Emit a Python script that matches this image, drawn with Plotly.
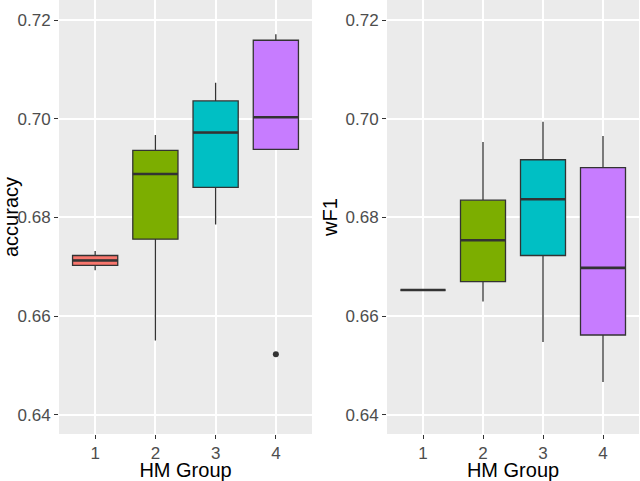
import plotly.graph_objects as go
from plotly.subplots import make_subplots

# --- data ---
groups = [1, 2, 3, 4]
group_colors = ["#F8766D", "#7CAE00", "#00BFC4", "#C77CFF"]

acc_low = [0.6693, 0.6551, 0.6786, 0.6938]
acc_q1 = [0.6703, 0.6756, 0.6861, 0.6938]
acc_med = [0.6713, 0.6888, 0.6972, 0.7003]
acc_q3 = [0.6723, 0.6936, 0.7036, 0.7159]
acc_high = [0.6732, 0.6967, 0.7073, 0.7171]
acc_outlier_group = [4]
acc_outlier_value = [0.6523]

wf1_low = [0.6653, 0.6630, 0.6548, 0.6467]
wf1_q1 = [0.6653, 0.6670, 0.6723, 0.6562]
wf1_med = [0.6653, 0.6754, 0.6837, 0.6698]
wf1_q3 = [0.6653, 0.6835, 0.6917, 0.6901]
wf1_high = [0.6653, 0.6953, 0.6994, 0.6965]

y_range = [0.63615, 0.72405]
y_ticks = [0.64, 0.66, 0.68, 0.70, 0.72]
y_ticktext = ["0.64", "0.66", "0.68", "0.70", "0.72"]
y_minor = [0.65, 0.67, 0.69, 0.71]

BOX_W = 0.75
LINE = "#333333"

fig = make_subplots(rows=1, cols=2, horizontal_spacing=0.1)

# ggplot-style minor grid lines, drawn under the data
for col in (1, 2):
    for v in y_minor:
        fig.add_hline(y=v, line=dict(color="white", width=1), layer="between", row=1, col=col)


def add_panel(col, low, q1, med, q3, high):
    for g, c, lo, a, m, b, hi in zip(groups, group_colors, low, q1, med, q3, high):
        fig.add_trace(
            go.Box(
                x=[g], lowerfence=[lo], q1=[a], median=[m], q3=[b], upperfence=[hi],
                width=BOX_W, whiskerwidth=0, fillcolor=c,
                line=dict(color=LINE, width=1.3), boxpoints=False,
                hoverinfo="skip", showlegend=False,
            ),
            row=1, col=col,
        )
        # thicker median like ggplot's fatten
        fig.add_trace(
            go.Scatter(
                x=[g - BOX_W / 2, g + BOX_W / 2], y=[m, m], mode="lines",
                line=dict(color=LINE, width=2.6), hoverinfo="skip", showlegend=False,
            ),
            row=1, col=col,
        )


add_panel(1, acc_low, acc_q1, acc_med, acc_q3, acc_high)
add_panel(2, wf1_low, wf1_q1, wf1_med, wf1_q3, wf1_high)

fig.add_trace(
    go.Scatter(
        x=acc_outlier_group, y=acc_outlier_value, mode="markers",
        marker=dict(color=LINE, size=6), hoverinfo="skip", showlegend=False,
    ),
    row=1, col=1,
)

fig.update_layout(
    width=640, height=481,
    margin=dict(l=0, r=0, t=0, b=0, autoexpand=False),
    paper_bgcolor="white",
    plot_bgcolor="#EBEBEB",
    font=dict(family="Liberation Sans, Arial, sans-serif", color="#000000"),
    xaxis=dict(domain=[59 / 640, 312 / 640]),
    xaxis2=dict(domain=[387 / 640, 639 / 640]),
    yaxis=dict(domain=[1 - 434 / 481, 1]),
    yaxis2=dict(domain=[1 - 434 / 481, 1]),
)

fig.update_xaxes(
    range=[0.4, 4.6], tickvals=groups, ticktext=[str(g) for g in groups],
    automargin=False,
    showgrid=True, gridcolor="white", gridwidth=1.6, zeroline=False,
    ticks="outside", ticklen=4, tickcolor=LINE, tickwidth=1.2,
    tickfont=dict(size=17, color="#4D4D4D"),
    title=dict(text="HM Group", font=dict(size=20, color="#000000"), standoff=4),
)
fig.update_yaxes(
    range=y_range, tickvals=y_ticks, ticktext=y_ticktext,
    automargin=False,
    showgrid=True, gridcolor="white", gridwidth=1.6, zeroline=False,
    ticks="outside", ticklen=4, tickcolor=LINE, tickwidth=1.2,
    tickfont=dict(size=17, color="#4D4D4D"),
)
fig.update_yaxes(title=dict(text="accuracy", font=dict(size=20, color="#000000"), standoff=2), row=1, col=1)
fig.update_yaxes(title=dict(text="wF1", font=dict(size=20, color="#000000"), standoff=2), row=1, col=2)

# page body has a default 8px margin; drop it so the figure sits at the window corner
fig.write_html(
    "out.html",
    config={"displayModeBar": False},
    post_script="document.body.style.margin='0';",
)
